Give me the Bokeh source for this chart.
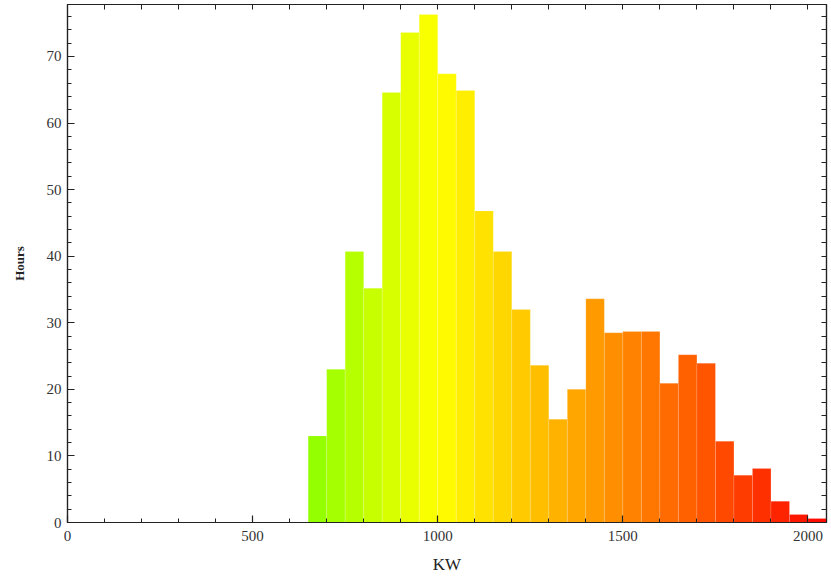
import colorsys
from bokeh.plotting import figure
from bokeh.models import LinearAxis, FixedTicker, Range1d, ColumnDataSource
from bokeh.embed import file_html
from bokeh.resources import INLINE

# Data: histogram bins (KW) and hours
bin_left = [650, 700, 750, 800, 850, 900, 950, 1000, 1050, 1100, 1150, 1200, 1250, 1300,
            1350, 1400, 1450, 1500, 1550, 1600, 1650, 1700, 1750, 1800, 1850, 1900, 1950, 2000]
bin_width = 50
hours = [13, 23, 40.7, 35.2, 64.6, 73.6, 76.3, 67.4, 64.9, 46.8, 40.7, 32, 23.6, 15.5,
         20, 33.6, 28.5, 28.7, 28.7, 20.9, 25.2, 23.9, 12.2, 7.1, 8.1, 3.2, 1.2, 0.6]
x_ticks = [0, 500, 1000, 1500, 2000]
y_ticks = [0, 10, 20, 30, 40, 50, 60, 70]
x_minor = list(range(0, 2101, 100))
y_minor = list(range(0, 79, 2))

bin_right = [b + bin_width for b in bin_left]

# colour gradient (style): green-yellow -> yellow -> red by position
def hue_for(i, n):
    if i <= 6:
        return 85 - (85 - 61) * i / 6.0
    return 59 - (59 - 3) * (i - 7) / (n - 8)

colors = []
for i in range(len(bin_left)):
    h = hue_for(i, len(bin_left)) / 360.0
    r, g, b = colorsys.hsv_to_rgb(h, 1.0, 1.0)
    colors.append("#%02x%02x%02x" % (int(r * 255), int(g * 255), int(b * 255)))

src = ColumnDataSource(dict(left=bin_left, right=bin_right, top=hours,
                            bottom=[0] * len(hours), color=colors))

FONT = "Liberation Serif"

p = figure(frame_width=759, frame_height=518, output_backend="svg", toolbar_location=None,
           x_range=Range1d(0, 2050), y_range=Range1d(0, 77.8),
           min_border_left=67, min_border_right=4, min_border_top=4, min_border_bottom=40,
           x_axis_label="KW", y_axis_label="Hours")

p.quad(left="left", right="right", top="top", bottom="bottom", source=src,
       fill_color="color", line_color="white", line_alpha=0.3, line_width=0.5)

p.grid.visible = False
p.outline_line_color = "#222222"
p.outline_line_width = 1.2
p.background_fill_color = "white"
p.border_fill_color = "white"

def base_style(ax):
    ax.axis_line_color = "#222222"
    ax.axis_line_width = 1.2
    ax.major_tick_out = 0
    ax.minor_tick_out = 0
    ax.major_tick_line_color = "#222222"
    ax.minor_tick_line_color = "#222222"
    ax.major_tick_line_width = 1.2
    ax.minor_tick_line_width = 1.0

for ax, major, minor in ((p.xaxis[0], x_ticks, x_minor), (p.yaxis[0], y_ticks, y_minor)):
    base_style(ax)
    ax.ticker = FixedTicker(ticks=major, minor_ticks=minor)
    ax.major_tick_in = 7
    ax.minor_tick_in = 4
    ax.major_label_text_font = FONT
    ax.major_label_text_font_size = "15px"
    ax.major_label_text_color = "#333333"
    ax.axis_label_text_font = FONT
    ax.axis_label_text_color = "#222222"

p.xaxis[0].axis_label_text_font_size = "17px"
p.xaxis[0].axis_label_text_font_style = "normal"
p.xaxis[0].axis_label_standoff = 11
p.xaxis[0].major_label_standoff = 8
p.yaxis[0].axis_label_text_font_size = "13px"
p.yaxis[0].axis_label_text_font_style = "bold"
p.yaxis[0].axis_label_standoff = 17
p.yaxis[0].major_label_standoff = 6

# mirrored tick marks on top and right (no labels)
top_ax = LinearAxis(ticker=FixedTicker(ticks=[], minor_ticks=x_minor))
right_ax = LinearAxis(ticker=FixedTicker(ticks=[], minor_ticks=y_minor))
for ax in (top_ax, right_ax):
    base_style(ax)
    ax.minor_tick_in = 5
    ax.major_label_standoff = 0
p.add_layout(top_ax, "above")
p.add_layout(right_ax, "right")

open("out.html", "w").write(file_html(p, INLINE))
